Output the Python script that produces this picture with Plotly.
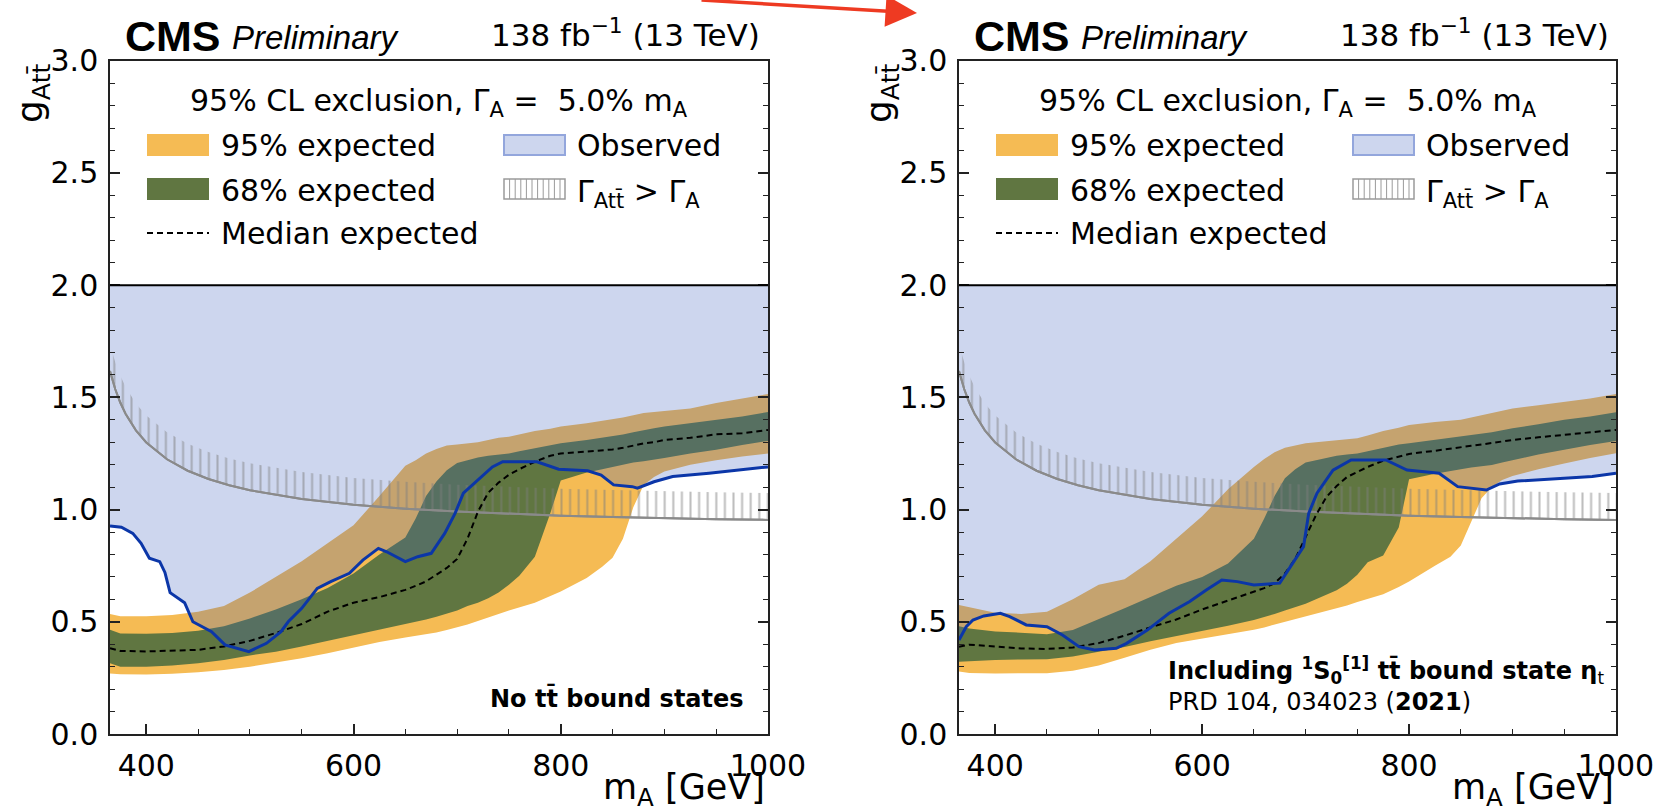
import numpy as np
import plotly.graph_objects as go

W, H = 1660, 811

# ---------------- data ----------------
MASS_EXP = [365, 375, 400, 425, 450, 475, 500, 525, 550, 575,
            600, 625, 650, 660, 670, 680, 690, 700, 710, 720,
            730, 740, 750, 760, 775, 790, 800, 825, 840, 850,
            860, 870, 880, 890, 900, 925, 950, 975, 1000]

# left panel: no tt bound states
LO95_L = [0.270, 0.266, 0.265, 0.268, 0.275, 0.285, 0.300, 0.318, 0.338, 0.360,
          0.385, 0.410, 0.430, 0.437, 0.443, 0.452, 0.463, 0.475, 0.488, 0.503,
          0.520, 0.535, 0.550, 0.565, 0.585, 0.615, 0.635, 0.695, 0.745, 0.785,
          0.870, 1.010, 1.110, 1.145, 1.170, 1.200, 1.220, 1.236, 1.250]
HI95_L = [0.535, 0.525, 0.525, 0.530, 0.545, 0.570, 0.630, 0.700, 0.770, 0.850,
          0.930, 1.060, 1.195, 1.220, 1.250, 1.270, 1.285, 1.290, 1.295, 1.300,
          1.310, 1.320, 1.325, 1.335, 1.350, 1.360, 1.370, 1.385, 1.395, 1.405,
          1.410, 1.420, 1.430, 1.435, 1.440, 1.450, 1.475, 1.495, 1.515]
LO68_L = [0.315, 0.300, 0.300, 0.305, 0.315, 0.330, 0.350, 0.367, 0.390, 0.415,
          0.440, 0.462, 0.490, 0.500, 0.510, 0.522, 0.535, 0.550, 0.570, 0.585,
          0.605, 0.630, 0.665, 0.705, 0.790, 0.985, 1.130, 1.165, 1.180, 1.190,
          1.200, 1.210, 1.215, 1.222, 1.230, 1.250, 1.266, 1.288, 1.306]
HI68_L = [0.465, 0.448, 0.447, 0.450, 0.460, 0.480, 0.515, 0.555, 0.600, 0.650,
          0.715, 0.800, 0.875, 0.960, 1.060, 1.125, 1.175, 1.207, 1.220, 1.232,
          1.240, 1.245, 1.250, 1.260, 1.273, 1.287, 1.295, 1.310, 1.320, 1.327,
          1.335, 1.345, 1.355, 1.362, 1.370, 1.385, 1.400, 1.415, 1.435]
MED_L = [0.382, 0.370, 0.368, 0.370, 0.375, 0.390, 0.415, 0.450, 0.490, 0.545,
         0.585, 0.610, 0.642, 0.660, 0.680, 0.710, 0.740, 0.780, 0.870, 0.990,
         1.075, 1.120, 1.155, 1.180, 1.213, 1.240, 1.250, 1.258, 1.263, 1.268,
         1.275, 1.285, 1.295, 1.300, 1.310, 1.320, 1.335, 1.340, 1.355]
OBS_M_L = [365, 376, 387, 395, 403, 413, 418, 423, 437, 445, 463, 476, 499, 516,
           530, 537, 550, 565, 578, 596, 609, 624, 632, 650, 662, 675, 688, 698,
           706, 718, 734, 744, 777, 798, 826, 839, 851, 869, 874, 890, 908, 943,
           969, 1000]
OBS_G_L = [0.927, 0.921, 0.894, 0.850, 0.783, 0.768, 0.720, 0.630, 0.585, 0.500,
           0.456, 0.397, 0.367, 0.404, 0.456, 0.500, 0.560, 0.649, 0.679, 0.716,
           0.775, 0.827, 0.812, 0.768, 0.790, 0.805, 0.894, 0.983, 1.073, 1.124,
           1.190, 1.213, 1.213, 1.180, 1.173, 1.154, 1.110, 1.102, 1.095, 1.124,
           1.147, 1.162, 1.176, 1.190]

# right panel: including the eta_t bound state
LO95_R = [0.278, 0.272, 0.270, 0.270, 0.271, 0.282, 0.305, 0.340, 0.375, 0.405,
          0.425, 0.442, 0.465, 0.475, 0.487, 0.498, 0.510, 0.522, 0.535, 0.547,
          0.558, 0.572, 0.588, 0.603, 0.623, 0.655, 0.680, 0.750, 0.790, 0.840,
          0.945, 1.050, 1.100, 1.132, 1.150, 1.180, 1.205, 1.230, 1.251]
HI95_R = [0.575, 0.565, 0.540, 0.535, 0.545, 0.600, 0.665, 0.690, 0.770, 0.870,
          0.970, 1.090, 1.190, 1.225, 1.255, 1.275, 1.285, 1.295, 1.300, 1.305,
          1.310, 1.315, 1.318, 1.330, 1.350, 1.365, 1.377, 1.390, 1.395, 1.400,
          1.410, 1.420, 1.430, 1.440, 1.450, 1.465, 1.480, 1.495, 1.515]
LO68_R = [0.322, 0.325, 0.330, 0.332, 0.333, 0.345, 0.365, 0.388, 0.413, 0.435,
          0.457, 0.482, 0.508, 0.520, 0.535, 0.550, 0.565, 0.580, 0.600, 0.620,
          0.640, 0.670, 0.710, 0.765, 0.795, 0.920, 1.135, 1.160, 1.170, 1.180,
          1.187, 1.193, 1.199, 1.210, 1.220, 1.245, 1.266, 1.288, 1.306]
HI68_R = [0.480, 0.470, 0.457, 0.450, 0.445, 0.463, 0.510, 0.560, 0.610, 0.660,
          0.700, 0.760, 0.870, 0.960, 1.060, 1.140, 1.180, 1.210, 1.220, 1.230,
          1.240, 1.245, 1.250, 1.260, 1.275, 1.290, 1.295, 1.310, 1.318, 1.325,
          1.330, 1.338, 1.345, 1.353, 1.362, 1.380, 1.400, 1.415, 1.434]
MED_R = [0.389, 0.398, 0.390, 0.381, 0.379, 0.385, 0.405, 0.438, 0.475, 0.510,
         0.555, 0.595, 0.635, 0.650, 0.672, 0.715, 0.780, 0.880, 0.975, 1.055,
         1.105, 1.145, 1.168, 1.190, 1.218, 1.238, 1.248, 1.262, 1.270, 1.278,
         1.284, 1.290, 1.297, 1.303, 1.310, 1.322, 1.333, 1.343, 1.355]
OBS_M_R = [365, 372, 378.5, 389, 405, 414, 430, 450, 465, 481, 496, 517, 527,
           547, 568, 588, 604, 619, 634, 650, 675, 690, 698, 703, 711, 726.5,
           744, 777.6, 798, 829, 847, 874.7, 887.5, 905, 936, 977, 1000]
OBS_G_R = [0.419, 0.478, 0.508, 0.526, 0.538, 0.523, 0.486, 0.478, 0.441, 0.389,
           0.374, 0.382, 0.404, 0.463, 0.538, 0.590, 0.642, 0.686, 0.679, 0.664,
           0.672, 0.775, 0.835, 0.983, 1.073, 1.176, 1.221, 1.221, 1.176, 1.162,
           1.102, 1.087, 1.114, 1.127, 1.135, 1.147, 1.162]

# width boundary Gamma(A->tt) = Gamma_A
GW_M = [365, 370, 375, 380, 390, 400, 420, 440, 460, 480, 500, 550, 600, 650,
        700, 750, 800, 850, 900, 950, 1000]
GW_G = [1.617, 1.537, 1.476, 1.427, 1.353, 1.299, 1.224, 1.173, 1.136, 1.108,
        1.086, 1.047, 1.021, 1.004, 0.991, 0.981, 0.973, 0.967, 0.961, 0.957, 0.954]

G_TOP = 2.0          # upper end of the scanned coupling range
X_RANGE = [365, 1000]
Y_RANGE = [0, 3]
X_TICKS = [400, 600, 800, 1000]

# ---------------- styles ----------------
YELLOW = "#F5BB54"
GREEN = "#607641"
OBS_FILL = "rgba(63,97,190,0.26)"
OBS_LINE = "#0b36a8"
GRAY = "#8a8a8a"
AX = "#222222"
HATCH = 0.12
FONT = "DejaVu Sans"


def px(x):
    return x / W


def py(y):
    return 1 - y / H


fig = go.Figure()


def add_panel(xa, ya, lo95, hi95, lo68, hi68, med, om, og):
    c = dict(xaxis=xa, yaxis=ya, showlegend=False, hoverinfo="skip", mode="lines")
    fig.add_trace(go.Scatter(x=MASS_EXP, y=lo95, line=dict(width=0), **c))
    fig.add_trace(go.Scatter(x=MASS_EXP, y=hi95, line=dict(width=0), fill="tonexty",
                             fillcolor=YELLOW, **c))
    fig.add_trace(go.Scatter(x=MASS_EXP, y=lo68, line=dict(width=0), **c))
    fig.add_trace(go.Scatter(x=MASS_EXP, y=hi68, line=dict(width=0), fill="tonexty",
                             fillcolor=GREEN, **c))
    fig.add_trace(go.Scatter(x=list(om) + [om[-1], om[0]], y=list(og) + [G_TOP, G_TOP],
                             line=dict(width=0), fill="toself", fillcolor=OBS_FILL, **c))
    fig.add_trace(go.Scatter(x=GW_M, y=GW_G, line=dict(color=GRAY, width=2), **c))
    fig.add_trace(go.Scatter(x=GW_M, y=(np.array(GW_G) + HATCH).tolist(),
                             line=dict(width=0), fill="tonexty",
                             fillcolor="rgba(0,0,0,0)",
                             fillpattern=dict(shape="|", size=8.6, solidity=0.24,
                                              fgcolor="#7e7e7e", bgcolor="rgba(0,0,0,0)"),
                             **c))
    fig.add_trace(go.Scatter(x=GW_M, y=GW_G, line=dict(color=GRAY, width=2), **c))
    fig.add_trace(go.Scatter(x=MASS_EXP, y=med,
                             line=dict(color="black", width=2, dash="6px,4px"), **c))
    fig.add_trace(go.Scatter(x=om, y=og, line=dict(color=OBS_LINE, width=3), **c))


add_panel("x", "y", LO95_L, HI95_L, LO68_L, HI68_L, MED_L, OBS_M_L, OBS_G_L)
add_panel("x2", "y2", LO95_R, HI95_R, LO68_R, HI68_R, MED_R, OBS_M_R, OBS_G_R)

ydom = [py(734), py(60.7)]


def xaxis(dom, anchor):
    return dict(domain=dom, anchor=anchor, range=X_RANGE, tickmode="array",
                tickvals=X_TICKS, ticks="inside", ticklen=10, tickwidth=1.5,
                tickcolor=AX, showline=True, linecolor=AX, linewidth=1.5,
                mirror=True, showgrid=False, zeroline=False, automargin=False,
                tickfont=dict(family=FONT, size=30, color="black"),
                ticklabelstandoff=4,
                minor=dict(dtick=50, tick0=400, ticks="inside", ticklen=5,
                           tickwidth=1.2, tickcolor=AX, showgrid=False))


def yaxis(anchor):
    return dict(domain=ydom, anchor=anchor, range=Y_RANGE, dtick=0.5, tick0=0,
                tickformat=".1f", ticks="inside", ticklen=10, tickwidth=1.5,
                tickcolor=AX, showline=True, linecolor=AX, linewidth=1.5,
                mirror="allticks", showgrid=False, zeroline=False, automargin=False,
                tickfont=dict(family=FONT, size=30, color="black"),
                ticklabelstandoff=4,
                minor=dict(dtick=0.1, ticks="inside", ticklen=5, tickwidth=1.2,
                           tickcolor=AX, showgrid=False))


fig.update_layout(
    width=W, height=H, margin=dict(l=0, r=0, t=0, b=0, pad=0, autoexpand=False),
    paper_bgcolor="white", plot_bgcolor="white", showlegend=False,
    xaxis=xaxis([px(110), px(768)], "y"),
    yaxis=yaxis("x"),
    xaxis2=xaxis([px(959), px(1616)], "y2"),
    yaxis2=yaxis("x2"),
)

shapes = []
annotations = []


def txt(text, x, y, size, xanchor="left", yanchor="middle", family=FONT, **kw):
    annotations.append(dict(text=text, x=px(x), y=py(y), xref="paper", yref="paper",
                            xanchor=xanchor, yanchor=yanchor, showarrow=False,
                            font=dict(family=family, size=size, color="black"), **kw))


for dx, xa in ((0, "x"), (849, "x2")):
    # line at the top of the scanned range
    shapes.append(dict(type="line", xref=xa + " domain", yref=xa.replace("x", "y"),
                       x0=0, x1=1, y0=G_TOP, y1=G_TOP,
                       line=dict(color="black", width=2), layer="above"))
    # header
    txt("<b>CMS</b>", 123 + dx, 36, 43, family="Liberation Sans")
    txt("<i>Preliminary</i>", 230 + dx, 37, 33, family="Liberation Sans")
    txt("138 fb<sup>\u22121</sup> (13 TeV)", 762 + dx, 33, 31, xanchor="right")
    # axis titles
    txt("m<sub>A</sub> [GeV]", 767 + dx, 789, 35, xanchor="right")
    annotations.append(dict(text="g<sub>Att\u0304</sub>", x=px(33 + dx), y=py(61),
                            xref="paper", yref="paper", xanchor="center",
                            yanchor="top", showarrow=False, textangle=-90,
                            font=dict(family=FONT, size=36, color="black")))
    # legend
    txt("95% CL exclusion, \u0393<sub>A</sub> =\u00a0 5.0% m<sub>A</sub>", 439 + dx, 103,
        30, xanchor="center")
    rows = [145, 189, 233]
    shapes.append(dict(type="rect", xref="paper", yref="paper", x0=px(147 + dx),
                       x1=px(209 + dx), y0=py(rows[0] + 11), y1=py(rows[0] - 11),
                       fillcolor=YELLOW, line=dict(width=0)))
    shapes.append(dict(type="rect", xref="paper", yref="paper", x0=px(147 + dx),
                       x1=px(209 + dx), y0=py(rows[1] + 11), y1=py(rows[1] - 11),
                       fillcolor=GREEN, line=dict(width=0)))
    shapes.append(dict(type="line", xref="paper", yref="paper", x0=px(147 + dx),
                       x1=px(209 + dx), y0=py(rows[2]), y1=py(rows[2]),
                       line=dict(color="black", width=2, dash="6px,4px")))
    shapes.append(dict(type="rect", xref="paper", yref="paper", x0=px(504 + dx),
                       x1=px(565 + dx), y0=py(rows[0] + 10), y1=py(rows[0] - 10),
                       fillcolor="#cdd6ee", line=dict(color="#93a6dc", width=2)))
    shapes.append(dict(type="rect", xref="paper", yref="paper", x0=px(504 + dx),
                       x1=px(565 + dx), y0=py(rows[1] + 10), y1=py(rows[1] - 10),
                       fillcolor="white", line=dict(color="#9a9a9a", width=1.5)))
    for k in range(1, 11):
        xx = 504 + dx + k * 5.6
        shapes.append(dict(type="line", xref="paper", yref="paper", x0=px(xx), x1=px(xx),
                           y0=py(rows[1] + 10), y1=py(rows[1] - 10),
                           line=dict(color="#9a9a9a", width=1)))
    txt("95% expected", 219 + dx, rows[0] + 1, 30)
    txt("68% expected", 219 + dx, rows[1] + 1, 30)
    txt("Median expected", 219 + dx, rows[2] + 1, 30)
    txt("Observed", 575 + dx, rows[0] + 1, 30)
    txt("\u0393<sub>Att\u0304</sub> > \u0393<sub>A</sub>", 575 + dx, rows[1] + 4, 30)

txt("<b>No tt\u0304 bound states</b>", 746, 698, 24, xanchor="right")
txt("<b>Including <sup>1</sup>S<sub>0</sub><sup>[1]</sup> tt\u0304 bound state \u03b7</b><sub>t</sub>",
    1166, 670, 24)
txt("PRD 104, 034023 (<b>2021</b>)", 1166, 702, 24)

# red arrow of the original slide
annotations.append(dict(text="", x=px(917), y=py(13), xref="paper", yref="paper",
                        ax=-217, ay=-15, showarrow=True, arrowhead=2, arrowsize=1.8,
                        arrowwidth=3.5, arrowcolor="#ee3a22", standoff=0))

fig.update_layout(shapes=shapes, annotations=annotations)
fig.write_html("out.html")
